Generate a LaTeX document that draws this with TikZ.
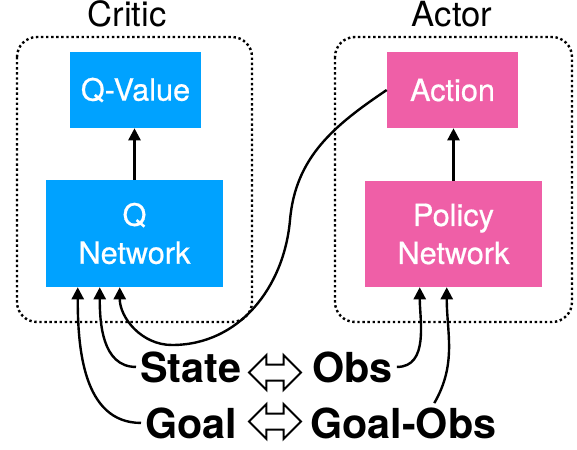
\documentclass[tikz,border=0pt]{standalone}
\usepackage{fontspec}
\setmainfont{TeX Gyre Heros}
\newfontfamily\blockfont[FakeBold=0.6]{TeX Gyre Heros}
\usepackage{tikz}
\usetikzlibrary{arrows.meta,shapes.arrows,calc}

\definecolor{criticblue}{RGB}{0,162,255}
\definecolor{actorpink}{RGB}{239,95,167}

\tikzset{
  block/.style={inner sep=0pt, align=center, text=white, font=\blockfont\fontsize{23}{28.5}\selectfont},
  group/.style={line width=1.8pt, dash pattern=on 1.8pt off 2pt, rounded corners=15pt},
  title/.style={inner sep=0pt, font=\fontsize{26}{26}\selectfont},
  tag/.style={inner ysep=0pt, inner xsep=3pt, font=\bfseries\fontsize{31}{31}\selectfont},
  feed/.style={line width=1.8pt, -{Triangle[length=9pt,width=9pt]}},
  equiv/.style={double arrow, draw, fill=white, line width=1.5pt, minimum height=39pt,
    inner xsep=0pt, inner ysep=5.25pt, double arrow head extend=7.1pt}
}

\begin{document}
\begin{tikzpicture}[x=0.75pt,y=0.75pt,yscale=-1,xscale=1]
\useasboundingbox (0,0) rectangle (577,449);

% dotted groups
\draw[group] (17,37) rectangle (252,322);
\draw[group] (335,37) rectangle (572,322);
\node[title, anchor=base] (critic) at (127,27) {Critic};
\node[title, anchor=base] (actor) at (452,27) {Actor};

% critic blocks
\node[block, fill=criticblue, minimum width=98.25pt, minimum height=57pt] (qval) at (135.5,90) {Q-Value};
\node[block, fill=criticblue, minimum width=132.75pt, minimum height=80.25pt] (qnet) at (134.5,233.5) {Q\\Network};
% actor blocks
\node[block, fill=actorpink, minimum width=98.25pt, minimum height=57pt] (act) at (452.5,90) {Action};
\node[block, fill=actorpink, minimum width=132.75pt, minimum height=79.5pt] (pnet) at (453.5,234) {Policy\\Network};

\draw[feed] (qnet.north) -- (qnet.north |- qval.south);
\draw[feed] (pnet.north) -- (pnet.north |- act.south);

% inputs
\coordinate (in1) at ($(qnet.south west)+(32,0)$);
\coordinate (in2) at ($(qnet.south west)+(54,0)$);
\coordinate (in3) at ($(qnet.south west)+(74,0)$);
\coordinate (pin1) at ($(pnet.south west)+(55,0)$);
\coordinate (pin2) at ($(pnet.south west)+(82,0)$);

% Text Node
\node[tag, anchor=base west] (state) at (136,382) {State};
\node[tag, anchor=base west] (obs) at (308,382) {Obs};
\node[tag, anchor=base west] (goal) at (141,438) {Goal};
\node[tag, anchor=base west] (gobs) at (306,438) {Goal-Obs};
\node[equiv] (eq1) at (275,372.5) {};
\node[equiv] (eq2) at (275,421.5) {};

% action fed back into the critic
\coordinate (bendA) at (290,220);
\coordinate (bendB) at (172,345);
\draw[feed] (act.west) to[out=146,in=-85] (bendA) to[out=95,in=0] (bendB) to[out=180,in=90] (in3);

\draw[feed] (state.west) to[out=180,in=90] (in2);
\draw[feed] (goal.west) to[out=180,in=90] (in1);
\draw[feed] (obs.east) to[out=0,in=90] (pin1);
\coordinate (gobstop) at ($(gobs.north)+(31,-4)$);
\draw[feed] (gobstop) to[out=-60,in=90] (pin2);

\end{tikzpicture}
\end{document}
